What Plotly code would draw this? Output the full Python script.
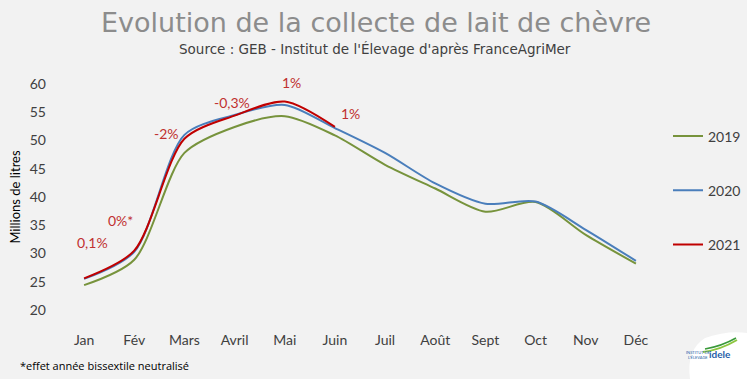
import plotly.graph_objects as go

months = ["Jan", "Fév", "Mars", "Avril", "Mai", "Juin", "Juil", "Août", "Sept", "Oct", "Nov", "Déc"]
v2019 = [24.4, 28.9, 47.8, 52.4, 54.3, 50.9, 45.7, 41.5, 37.4, 39.1, 33.3, 28.2]
v2020 = [25.5, 30.3, 51.0, 54.5, 56.3, 52.2, 47.8, 42.4, 38.8, 39.2, 34.2, 28.7]
v2021 = [25.6, 30.5, 50.3, 54.4, 56.9, 52.4]
m2021 = months[:6]

ann_text = ["0,1%", "0%*", "-2%", "-0,3%", "1%", "1%"]
ann_x = [0.16, 0.72, 1.65, 2.95, 4.14, 5.32]
ann_y = [32.0, 35.9, 51.3, 56.8, 60.2, 54.7]

yticks = [20, 25, 30, 35, 40, 45, 50, 55, 60]

W, H = 747, 379
L, R, T, B = 59, 86, 84, 69
PW, PH = W - L - R, H - T - B


def px(x):
    return (x - L) / PW


def py(y):
    return (H - B - y) / PH


BG = "#f2f2f2"
FONT = "Lato, sans-serif"
fig = go.Figure()
series = [("2019", months, v2019, "#77933C"),
          ("2020", months, v2020, "#4A7EBB"),
          ("2021", m2021, v2021, "#C00000")]
for name, xs, ys, col in series:
    fig.add_trace(go.Scatter(x=xs, y=ys, name=name, mode="lines",
                             line=dict(color=col, width=2, shape="spline", smoothing=0.8),
                             legendgroup=name))

for t, x, y in zip(ann_text, ann_x, ann_y):
    ya = min(y, 60)
    fig.add_annotation(x=x, y=ya, xref="x", yref="y", text=t, showarrow=False,
                       yshift=(y - ya) * PH / 40,
                       font=dict(family=FONT, size=14, color="#C0302F"))

fig.add_annotation(x=px(376), y=py(23), xref="paper", yref="paper", xanchor="center", yanchor="middle",
                   text="Evolution de la collecte de lait de chèvre", showarrow=False,
                   font=dict(family="DejaVu Sans, sans-serif", size=27, color="#8c8c8c"))
fig.add_annotation(x=px(375), y=py(49), xref="paper", yref="paper", xanchor="center", yanchor="middle",
                   text="Source : GEB - Institut de l'Élevage d'après FranceAgriMer", showarrow=False,
                   font=dict(family="DejaVu Sans, sans-serif", size=13.5, color="#404040"))
fig.add_annotation(x=px(18), y=py(365), xref="paper", yref="paper", xanchor="left", yanchor="middle",
                   text="*effet année bissextile neutralisé",
                   showarrow=False, font=dict(family="Open Sans, sans-serif", size=11, color="#000000"))

fig.update_layout(
    width=W, height=H,
    paper_bgcolor=BG, plot_bgcolor=BG,
    margin=dict(l=L, r=R, t=T, b=B, autoexpand=False),
    showlegend=True,
    legend=dict(x=px(668), xanchor="left", y=py(120.5), yanchor="top", tracegroupgap=33,
                itemwidth=30, bgcolor="rgba(0,0,0,0)",
                font=dict(family=FONT, size=14, color="#404040")),
    xaxis=dict(type="category", showgrid=False, zeroline=False, showline=False,
               ticks="", ticklabelstandoff=20, automargin=False,
               tickfont=dict(family=FONT, size=14, color="#404040"),
               range=[-0.5, 11.5]),
    yaxis=dict(range=[20, 60], tickvals=yticks, showgrid=False, zeroline=False, showline=False,
               ticks="", ticklabelstandoff=12, automargin=False,
               tickfont=dict(family=FONT, size=14, color="#404040"),
               title=dict(text="Millions de litres", standoff=6,
                          font=dict(family=FONT, size=13, color="#000000"))),
)

# logo approximation (white blob with swoosh and text)
blob = (f"M {px(690)} {py(379)} Q {px(686)} {py(350)} {px(705)} {py(338)} "
        f"Q {px(728)} {py(330)} {px(747)} {py(333)} L {px(747)} {py(379)} Z")
fig.add_shape(type="path", xref="paper", yref="paper", path=blob,
              fillcolor="white", line=dict(width=0), layer="above")
swoosh = (f"M {px(703)} {py(352)} Q {px(720)} {py(350)} {px(737)} {py(340)}")
fig.add_shape(type="path", xref="paper", yref="paper", path=swoosh,
              line=dict(color="#8dc63f", width=2), layer="above")
swoosh2 = (f"M {px(705)} {py(349)} Q {px(722)} {py(346)} {px(736)} {py(338)}")
fig.add_shape(type="path", xref="paper", yref="paper", path=swoosh2,
              line=dict(color="#3a9a3a", width=1.5), layer="above")
fig.add_annotation(xref="paper", yref="paper", x=px(733), y=py(362), text="<b>idele</b>",
                   showarrow=False, font=dict(family=FONT, size=10, color="#1f5fa8"))
fig.add_annotation(xref="paper", yref="paper", x=px(712), y=py(362), text="INSTITUT DE<br>L'ÉLEVAGE",
                   showarrow=False, font=dict(family=FONT, size=4, color="#1f5fa8"))

fig.write_html("out.html", config={"displayModeBar": False},
               post_script="document.body.style.margin='0';")
